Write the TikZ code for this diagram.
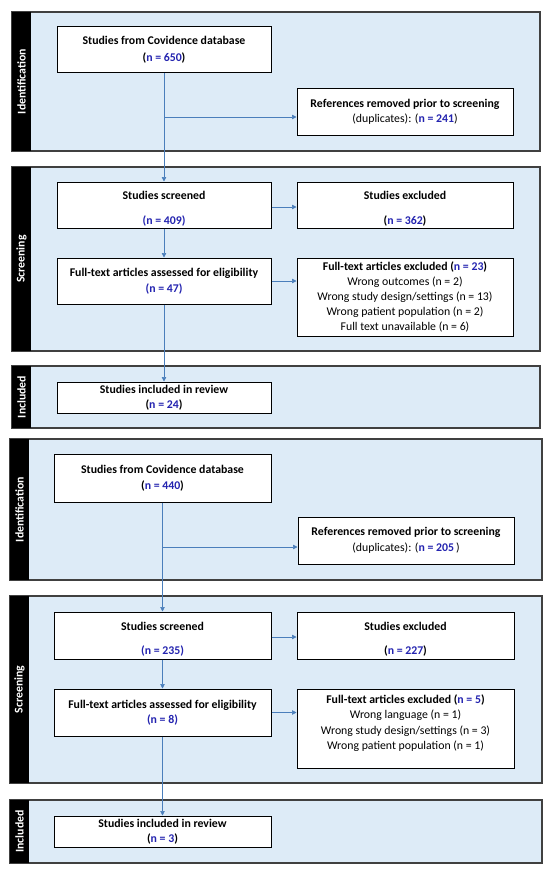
\documentclass[tikz,border=0pt]{standalone}
\usepackage{fontspec}
\setmainfont{Carlito}
\usetikzlibrary{arrows.meta}
\definecolor{panelfill}{HTML}{DDEBF7}
\definecolor{panelline}{HTML}{404040}
\definecolor{arrowblue}{HTML}{4A7EBB}
\definecolor{nblue}{HTML}{2424B0}
\newcommand{\nbl}[1]{\textcolor{nblue}{#1}}
\begin{document}
\begin{tikzpicture}[x=1pt,y=-1pt,
  panel/.style={draw=panelline, line width=1.3pt, fill=panelfill},
  bandfill/.style={fill=black},
  bandlabel/.style={rotate=90, text=white, inner sep=0pt, font=\bfseries\fontsize{11.8}{14}\selectfont},
  flowbox/.style={draw=black, line width=1pt, fill=white, align=center, inner sep=0pt, font=\fontsize{11.8}{15.5}\selectfont},
  flow/.style={draw=arrowblue, line width=0.7pt},
  flowarrow/.style={flow, -{Triangle[length=4.5pt,width=4.5pt]}}]
\useasboundingbox (0,0) rectangle (550,872);
\fill[white] (0,0) rectangle (550,872);

% ---------- panels ----------
\draw[panel] (12,12) rectangle (540,151);
\fill[bandfill] (12,12) rectangle (31,151);
\node[bandlabel] (L1) at (21.5,81.5) {Identification};

\draw[panel] (12,167) rectangle (540,351);
\fill[bandfill] (12,167) rectangle (31,351);
\node[bandlabel] (L2) at (21.5,259) {Screening};

\draw[panel] (12,366) rectangle (540,428);
\fill[bandfill] (12,366) rectangle (31,428);
\node[bandlabel] (L3) at (21.5,397) {Included};

\draw[panel] (10,439) rectangle (542,580);
\fill[bandfill] (10,439) rectangle (29,580);
\node[bandlabel] (L4) at (19.5,509.5) {Identification};

\draw[panel] (10,596) rectangle (542,783);
\fill[bandfill] (10,596) rectangle (29,783);
\node[bandlabel] (L5) at (19.5,689.5) {Screening};

\draw[panel] (10,800) rectangle (542,863);
\fill[bandfill] (10,800) rectangle (29,863);
\node[bandlabel] (L6) at (19.5,831.5) {Included};

% ---------- first flow ----------
\node[flowbox, minimum width=214pt, minimum height=46pt] (A1) at (164,50)
  {\textbf{Studies from Covidence database}\\[2pt]\textbf{(\nbl{n = 650})}};
\node[flowbox, minimum width=216pt, minimum height=46pt] (R1) at (405,112)
  {\textbf{References removed prior to screening}\\(duplicates): (\textbf{\nbl{n = 241}})};
\node[flowbox, minimum width=214pt, minimum height=46pt] (S1) at (164,205)
  {~\\[0pt]\textbf{Studies screened}\\[9pt]\textbf{\nbl{(n = 409)}}};
\node[flowbox, minimum width=216pt, minimum height=46pt] (E1) at (405,205)
  {~\\[0pt]\textbf{Studies excluded}\\[9pt]\textbf{(\nbl{n = 362})}};
\node[flowbox, minimum width=214pt, minimum height=46pt] (F1) at (164,281)
  {\textbf{Full-text articles assessed for eligibility}\\\textbf{\nbl{(n = 47)}}};
\node[flowbox, minimum width=216pt, minimum height=78pt, font=\fontsize{11.8}{15}\selectfont] (X1) at (405,297)
  {\textbf{Full-text articles excluded (\nbl{n = 23})}\\Wrong outcomes (n = 2)\\Wrong study design/settings (n = 13)\\Wrong patient population (n = 2)\\Full text unavailable (n = 6)};
\node[flowbox, minimum width=214pt, minimum height=31pt, font=\fontsize{11.8}{15}\selectfont] (I1) at (164,397.5)
  {\textbf{Studies included in review}\\\textbf{(\nbl{n = 24})}};

\coordinate (B1) at (164,117);
\draw[flow] (A1.south) -- (B1);
\draw[flowarrow] (B1) -- (S1.north);
\draw[flowarrow] (B1) -- (B1 -| R1.west);
\draw[flowarrow] ([yshift=-2pt]S1.east) -- ([yshift=-2pt]E1.west);
\draw[flowarrow] (S1.south) -- (F1.north);
\draw[flowarrow] (F1.east) -- (F1.east -| X1.west);
\draw[flowarrow] (F1.south) -- (I1.north);

% ---------- second flow ----------
\node[flowbox, minimum width=217pt, minimum height=48pt] (A2) at (162.5,478)
  {\textbf{Studies from Covidence database}\\[1pt]\textbf{(\nbl{n = 440})}};
\node[flowbox, minimum width=216pt, minimum height=47pt] (R2) at (406,540.5)
  {\textbf{References removed prior to screening}\\(duplicates): (\textbf{\nbl{n = 205}}\,)};
\node[flowbox, minimum width=217pt, minimum height=47pt] (S2) at (162.5,635.5)
  {~\\[0pt]\textbf{Studies screened}\\[9pt]\textbf{\nbl{(n = 235)}}};
\node[flowbox, minimum width=217pt, minimum height=47pt] (E2) at (405.5,635.5)
  {~\\[0pt]\textbf{Studies excluded}\\[9pt]\textbf{(\nbl{n = 227})}};
\node[flowbox, minimum width=217pt, minimum height=47pt, font=\fontsize{11.8}{15}\selectfont] (F2) at (162.5,712.5)
  {\textbf{Full-text articles assessed for eligibility}\\\textbf{\nbl{(n = 8)}}};
\node[flowbox, minimum width=217pt, minimum height=79pt, font=\fontsize{11.8}{15.5}\selectfont] (X2) at (405.5,728.5)
  {\textbf{Full-text articles excluded (\nbl{n = 5})}\\Wrong language (n = 1)\\Wrong study design/settings (n = 3)\\Wrong patient population (n = 1)\\[-3pt]~};
\node[flowbox, minimum width=217pt, minimum height=31pt, font=\fontsize{11.8}{15.5}\selectfont] (I2) at (162.5,831.5)
  {\textbf{Studies included in review}\\\textbf{(\nbl{n = 3})}};

\coordinate (B2) at (162.5,547);
\draw[flow] (A2.south) -- (B2);
\draw[flowarrow] (B2) -- (S2.north);
\draw[flowarrow] (B2) -- (B2 -| R2.west);
\draw[flowarrow] ([yshift=-1.5pt]S2.east) -- ([yshift=-1.5pt]E2.west);
\draw[flowarrow] (S2.south) -- (F2.north);
\draw[flowarrow] (F2.east) -- (F2.east -| X2.west);
\draw[flowarrow] (F2.south) -- (I2.north);
\end{tikzpicture}
\end{document}
